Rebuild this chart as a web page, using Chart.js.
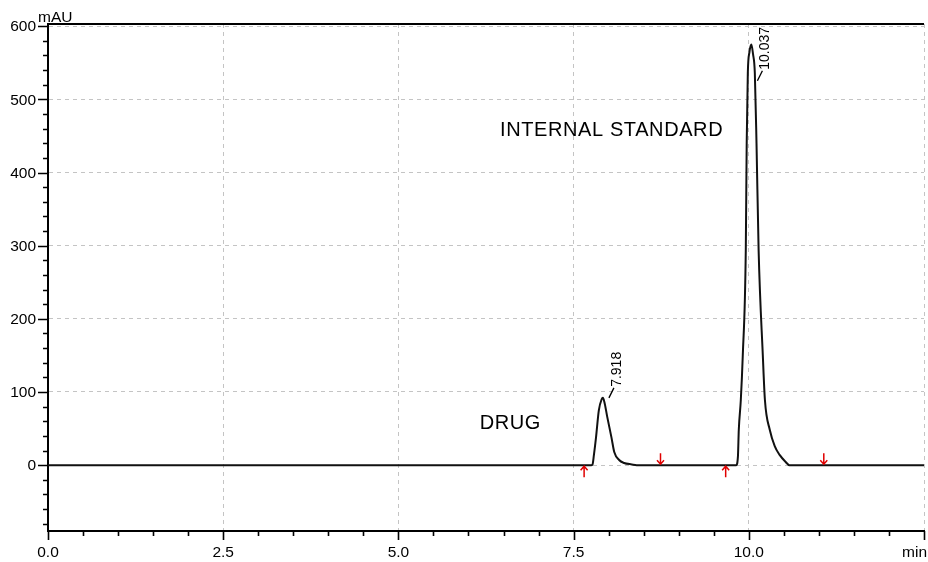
<!DOCTYPE html>
<html>
<head>
<meta charset="utf-8">
<script src="https://cdn.jsdelivr.net/npm/chart.js@4.4.1/dist/chart.umd.min.js"></script>
<style>
  html, body { margin: 0; padding: 0; background: #fff; }
  #wrap { width: 928px; height: 562px; }
</style>
</head>
<body>
<div id="wrap"><canvas id="chrom" width="928" height="562"></canvas></div>
<script>
// tick labels
const xMajor = [0, 2.5, 5, 7.5, 10, 12.5];
const xLabels = ["0.0", "2.5", "5.0", "7.5", "10.0", "min"];
const yMajor = [0, 100, 200, 300, 400, 500, 600];
const yLabels = ["0", "100", "200", "300", "400", "500", "600"];
const xMinorStep = 0.5;
const yMinorStep = 20;

// signal (min / mAU)
const time = [0, 7.75, 7.77, 7.79, 7.82, 7.86, 7.90, 7.918, 7.94, 7.98, 8.04, 8.08, 8.15, 8.22, 8.33, 8.40,
  9.82, 9.845, 9.857, 9.886, 9.914, 9.957, 9.97, 9.986, 10.01, 10.037, 10.06, 10.086, 10.11, 10.14,
  10.20, 10.23, 10.30, 10.37, 10.44, 10.52, 10.58, 12.5];
const mAU = [0, 0, 1, 14, 38, 75, 90, 92, 86, 66, 38, 18, 7, 3, 1, 0,
  0, 12, 48, 89, 150, 294, 440, 536, 565, 575, 562, 536, 440, 294,
  150, 89, 48, 26, 14, 5, 0, 0];

// peak labels
const peakTimes = [7.918, 10.037];
const peakHeights = [92, 575];
const peakLabels = ["7.918", "10.037"];

// integration markers
const startMarks = [7.65, 9.67];
const endMarks = [8.74, 11.07];

// text annotations
const noteText = ["INTERNAL STANDARD", "DRUG"];
const noteX = [6.45, 6.16];
const noteY = [458, 57];

const FONT = 'Arial, "Liberation Sans", sans-serif';

const overlay = {
  id: "overlay",
  afterDraw(chart) {
    const { ctx, chartArea: a, scales: { x, y } } = chart;
    ctx.save();

    // top frame line
    ctx.strokeStyle = "#000";
    ctx.lineWidth = 2;
    ctx.beginPath();
    ctx.moveTo(a.left - 1, a.top);
    ctx.lineTo(a.right, a.top);
    ctx.stroke();

    // tick marks
    ctx.lineWidth = 1.6;
    ctx.beginPath();
    x.ticks.forEach(t => {
      const px = Math.round(x.getPixelForValue(t.value)) + 0.5;
      const len = xMajor.includes(t.value) ? 9 : 5;
      ctx.moveTo(px, a.bottom);
      ctx.lineTo(px, a.bottom + len);
    });
    y.ticks.forEach(t => {
      const py = Math.round(y.getPixelForValue(t.value)) + 0.5;
      const len = yMajor.includes(t.value) ? 10 : 5;
      ctx.moveTo(a.left, py);
      ctx.lineTo(a.left - len, py);
    });
    ctx.stroke();

    // tick labels
    ctx.fillStyle = "#000";
    ctx.font = "15.5px " + FONT;
    ctx.textBaseline = "middle";
    xMajor.forEach((v, i) => {
      const px = x.getPixelForValue(v);
      if (xLabels[i] === "min") {
        ctx.textAlign = "right";
        ctx.fillText("min", chart.width - 1, a.bottom + 22);
      } else {
        ctx.textAlign = "center";
        ctx.fillText(xLabels[i], px, a.bottom + 22);
      }
    });
    ctx.textAlign = "right";
    yMajor.forEach((v, i) => {
      ctx.fillText(yLabels[i], a.left - 12, y.getPixelForValue(v) + 1);
    });
    ctx.textAlign = "left";
    ctx.textBaseline = "alphabetic";
    ctx.fillText("mAU", a.left - 10, a.top - 2);

    // integration markers
    ctx.strokeStyle = "#e00000";
    ctx.lineWidth = 1.5;
    const y0 = y.getPixelForValue(0);
    startMarks.forEach(t => {
      const px = x.getPixelForValue(t);
      ctx.beginPath();
      ctx.moveTo(px, y0 + 12);
      ctx.lineTo(px, y0 + 1);
      ctx.moveTo(px - 3.5, y0 + 5);
      ctx.lineTo(px, y0 + 1);
      ctx.lineTo(px + 3.5, y0 + 5);
      ctx.stroke();
    });
    endMarks.forEach(t => {
      const px = x.getPixelForValue(t);
      ctx.beginPath();
      ctx.moveTo(px, y0 - 12);
      ctx.lineTo(px, y0 - 1);
      ctx.moveTo(px - 3.5, y0 - 5);
      ctx.lineTo(px, y0 - 1);
      ctx.lineTo(px + 3.5, y0 - 5);
      ctx.stroke();
    });

    // retention time labels, rotated, with the little slash mark under them
    ctx.fillStyle = "#000";
    ctx.strokeStyle = "#000";
    ctx.font = "14px " + FONT;
    ctx.textAlign = "left";
    ctx.textBaseline = "alphabetic";
    peakLabels.forEach((lab, i) => {
      const px = x.getPixelForValue(peakTimes[i]) + 18;
      const w = ctx.measureText(lab).width;
      const py = Math.max(y.getPixelForValue(peakHeights[i]), a.top + w + 14);
      ctx.beginPath();
      ctx.lineWidth = 1.3;
      ctx.moveTo(px - 12, py);
      ctx.lineTo(px - 7, py - 10);
      ctx.stroke();
      ctx.save();
      ctx.translate(px, py - 11);
      ctx.rotate(-Math.PI / 2);
      ctx.fillText(lab, 0, 0);
      ctx.restore();
    });

    // annotations
    ctx.font = "20px " + FONT;
    ctx.letterSpacing = "0.6px";
    ctx.textBaseline = "middle";
    noteText.forEach((txt, i) => {
      ctx.fillText(txt, x.getPixelForValue(noteX[i]), y.getPixelForValue(noteY[i]));
    });
    ctx.restore();
  }
};

const gridColor = majors => c => majors.includes(c.tick.value) ? "#c4c4c4" : "rgba(0,0,0,0)";

new Chart(document.getElementById("chrom"), {
  type: "line",
  data: {
    datasets: [{
      data: time.map((t, i) => ({ x: t, y: mAU[i] })),
      borderColor: "#111",
      borderWidth: 2,
      pointRadius: 0,
      fill: false,
      cubicInterpolationMode: "monotone"
    }]
  },
  options: {
    responsive: false,
    animation: false,
    events: [],
    layout: { padding: { left: 48, right: 4, top: 24, bottom: 31 } },
    plugins: { legend: { display: false }, tooltip: { enabled: false } },
    scales: {
      x: {
        type: "linear",
        min: 0,
        max: 12.5,
        afterBuildTicks: s => {
          s.ticks = [];
          for (let v = 0; v <= 12.5 + 1e-9; v += xMinorStep) s.ticks.push({ value: Math.round(v * 10) / 10 });
        },
        ticks: { display: false, autoSkip: false },
        grid: { color: gridColor(xMajor), lineWidth: 1, drawTicks: false },
        border: { display: true, color: "#000", width: 2, dash: [4, 4] }
      },
      y: {
        min: -90,
        max: 603,
        afterBuildTicks: s => {
          s.ticks = [];
          for (let v = -80; v <= 600; v += yMinorStep) s.ticks.push({ value: v });
        },
        ticks: { display: false, autoSkip: false },
        grid: { color: gridColor(yMajor), lineWidth: 1, drawTicks: false },
        border: { display: true, color: "#000", width: 2, dash: [4, 4] }
      }
    }
  },
  plugins: [overlay]
});
</script>
</body>
</html>
